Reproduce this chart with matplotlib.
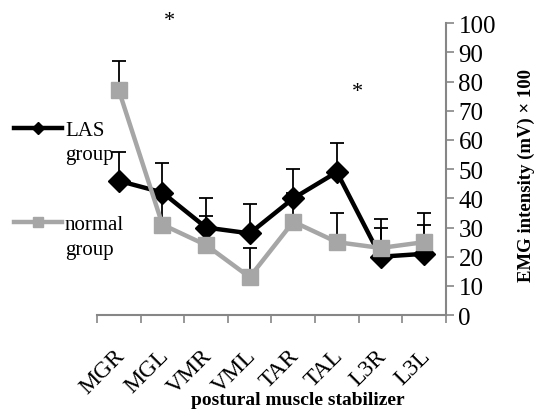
import matplotlib
matplotlib.use("Agg")
import matplotlib.pyplot as plt
import matplotlib.transforms as mtransforms
import numpy as np

plt.rcParams['font.family'] = ['Liberation Serif', 'DejaVu Serif']

muscles = ["MGR", "MGL", "VMR", "VML", "TAR", "TAL", "L3R", "L3L"]
las_mean = [46, 42, 30, 28, 40, 49, 20, 21]
las_err = [10, 10, 10, 10, 10, 10, 10, 10]
normal_mean = [77, 31, 24, 13, 32, 25, 23, 25]
normal_err = [10, 10, 10, 10, 10, 10, 10, 10]

# significance stars (category position, height)
stars_x = [2.15, 6.46]
stars_y = [101, 76.5]

grey_axis = "#868686"
grey_line = "#A6A6A6"

fig = plt.figure(figsize=(5.36, 4.10), dpi=100)
ax = fig.add_axes([0.181, 0.229, 0.651, 0.712])

x = np.arange(1, len(muscles) + 1)

ax.errorbar(x, las_mean, yerr=[np.zeros(len(x)), las_err], fmt='none',
            ecolor='black', elinewidth=1.3, capsize=5, capthick=1.3, zorder=2)
ax.errorbar(x, normal_mean, yerr=[np.zeros(len(x)), normal_err], fmt='none',
            ecolor='black', elinewidth=1.3, capsize=5, capthick=1.3, zorder=2)

l_las, = ax.plot(x, las_mean, '-D', color='black', lw=3.2, ms=11,
                 label="LAS", zorder=3)
l_norm, = ax.plot(x, normal_mean, '-s', color=grey_line, lw=3.2, ms=12,
                  label="normal", zorder=4)

for sx, sy in zip(stars_x, stars_y):
    ax.text(sx, sy, "*", ha='center', va='center', fontsize=16, clip_on=False)

ax.set_xlim(0.5, len(muscles) + 0.5)
ax.set_ylim(0, 100)

ax.set_xticks(x)
ax.set_xticklabels(muscles, rotation=45, ha='right', rotation_mode='anchor',
                   fontsize=17)
ax.set_xticks(np.arange(0.5, len(muscles) + 1), minor=True)
ax.tick_params(axis='x', which='major', length=0, pad=18)
ax.tick_params(axis='x', which='minor', length=6, width=1.2,
               color=grey_axis, direction='out')
shift = mtransforms.ScaledTranslation(-0.045, -0.045, fig.dpi_scale_trans)
for lab in ax.get_xticklabels():
    lab.set_transform(lab.get_transform() + shift)

ax.yaxis.tick_right()
ax.yaxis.set_label_position('right')
ax.set_yticks(np.arange(0, 101, 10))
ax.tick_params(axis='y', length=6, width=1.2, color=grey_axis,
               direction='out', labelsize=18, pad=3)

for side in ['left', 'top']:
    ax.spines[side].set_visible(False)
for side in ['right', 'bottom']:
    ax.spines[side].set_color(grey_axis)
    ax.spines[side].set_linewidth(1.5)

ax.set_ylabel("EMG intensity (mV) × 100", fontsize=13.5, fontweight='bold')
ax.yaxis.set_label_coords(1.205, 0.483)
fig.text(0.556, 0.024, "postural muscle stabilizer", ha='center', va='center',
         fontsize=14, fontweight='bold')

leg = fig.legend(handles=[l_las, l_norm], loc='upper left',
                 bbox_to_anchor=(-0.005, 0.745), frameon=False, fontsize=15,
                 handlelength=2.3, handletextpad=0.15, labelspacing=3.6,
                 markerscale=0.55, borderpad=0.3)

# second line of each legend label, placed under the first line
fig.canvas.draw()
to_fig = fig.transFigure.inverted()
for t in leg.get_texts():
    bb = t.get_window_extent()
    px, py = to_fig.transform((bb.x0, bb.y0 - 19.5))
    fig.text(px, py, "group", ha='left', va='baseline', fontsize=15)

fig.savefig("out.png", dpi=100)
